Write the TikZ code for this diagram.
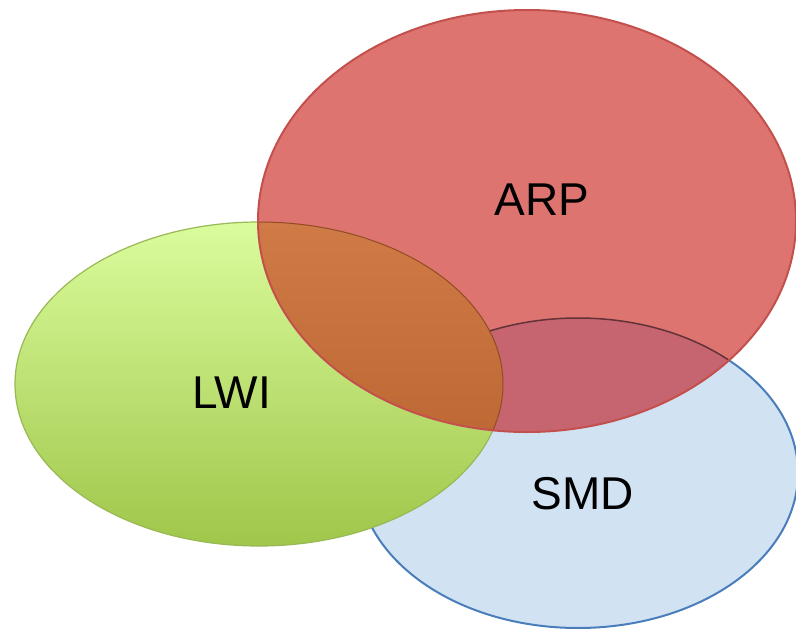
\documentclass[tikz,border=0pt]{standalone}
\usepackage{fontspec}
\setmainfont{Liberation Sans}
\definecolor{smdfill}{HTML}{D1E2F3}
\definecolor{smdline}{HTML}{4A7EBB}
\definecolor{lwitop}{HTML}{DBFC9D}
\definecolor{lwibot}{HTML}{A0C64A}
\definecolor{lwiline}{HTML}{98B954}
\definecolor{arpfill}{HTML}{DE7470}
\definecolor{arpline}{HTML}{C4504D}
\definecolor{mixtop}{HTML}{D07A46}
\definecolor{mixbot}{HTML}{B55F2C}
\definecolor{mixsmd}{HTML}{C66570}
\newcommand{\arpshape}{(527,221) ellipse [x radius=269pt, y radius=211pt]}
\newcommand{\lwishape}{(259,384) ellipse [x radius=244pt, y radius=162pt]}
\newcommand{\smdshape}{(578,473) ellipse [x radius=220pt, y radius=155pt]}
\tikzset{setname/.style={font=\fontsize{46}{50}\selectfont, inner sep=0pt}}

\begin{document}
\begin{tikzpicture}[x=1pt,y=-1pt]
  \useasboundingbox (0,0) rectangle (796,629);

  %SMD set, lowest
  \filldraw[fill=smdfill, draw=smdline, line width=2pt] \smdshape;

  %LWI set, covers SMD
  \shade[top color=lwitop, bottom color=lwibot] \lwishape;
  \draw[lwiline, line width=1.2pt] \lwishape;

  %ARP set on top
  \fill[arpfill] \arpshape;
  \begin{scope}
    \clip \arpshape;
    \fill[mixsmd] \smdshape;
    \draw[black!50!mixsmd, line width=1.5pt] \smdshape;
    \shade[top color=mixtop, bottom color=mixbot] \lwishape;
    \draw[mixbot!80!black, line width=1pt] \lwishape;
  \end{scope}
  \draw[arpline, line width=2pt] \arpshape;

  %labels
  \node[setname] (arp) at (542,200) {ARP};
  \node[setname] (lwi) at (232,393) {LWI};
  \node[setname] (smd) at (583,494) {SMD};
\end{tikzpicture}
\end{document}
